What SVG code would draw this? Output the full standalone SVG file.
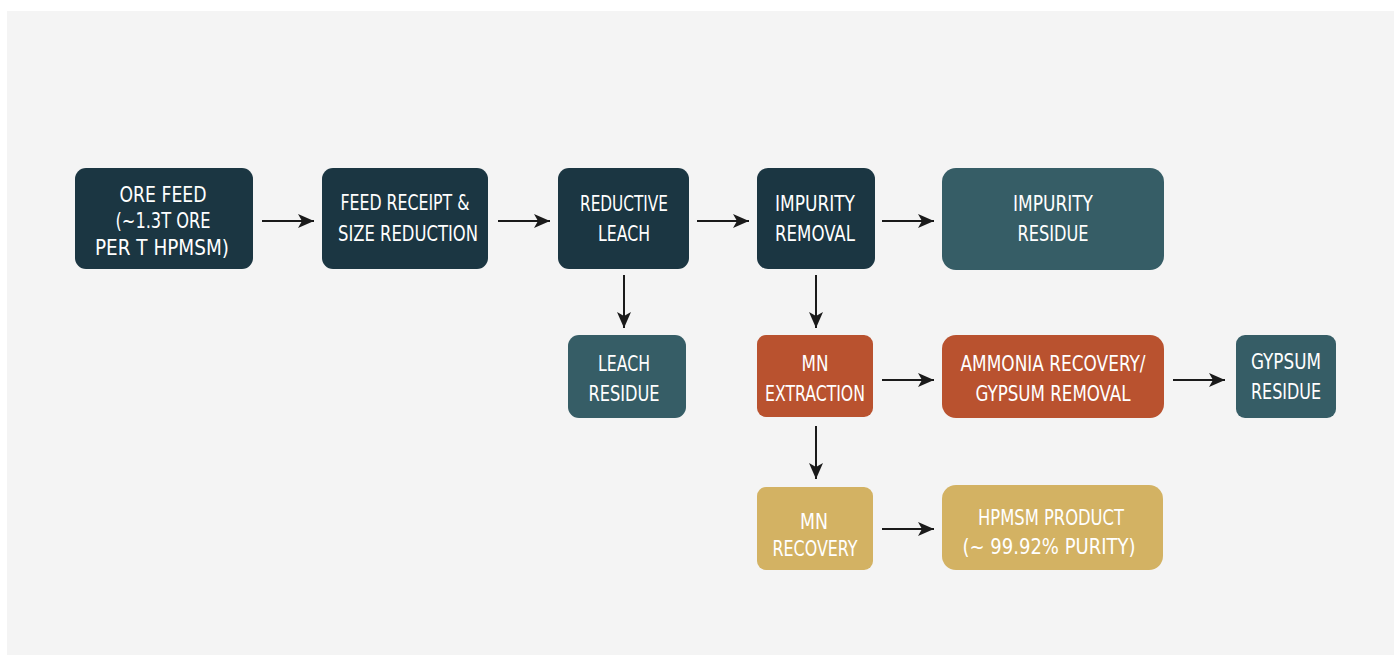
<svg xmlns="http://www.w3.org/2000/svg" width="1394" height="655" viewBox="0 0 1394 655">
<style>
.bg{fill:#f4f4f4}
.dark{fill:#1b3642}
.teal{fill:#365d66}
.orange{fill:#b9522f}
.gold{fill:#d3b263}
.t{font-family:"DejaVu Sans","Liberation Sans",sans-serif;font-stretch:condensed;font-size:22px;fill:#ffffff;text-anchor:middle}
.c{stroke:#1a1a1a;stroke-width:2;fill:none;marker-end:url(#ah)}
</style>
<defs>
<marker id="ah" markerUnits="userSpaceOnUse" markerWidth="18" markerHeight="16" refX="16" refY="7" orient="auto">
<path d="M0,0 L16,7 L0,14 L4,7 Z" fill="#1a1a1a"/>
</marker>
</defs>
<rect class="bg" x="7" y="11" width="1387" height="644"/>
<g id="connectors">
<line class="c" x1="262" y1="221" x2="314" y2="221"/>
<line class="c" x1="498" y1="221" x2="550" y2="221"/>
<line class="c" x1="697" y1="221" x2="749" y2="221"/>
<line class="c" x1="882" y1="221" x2="934" y2="221"/>
<line class="c" x1="624" y1="275" x2="624" y2="328"/>
<line class="c" x1="816" y1="275" x2="816" y2="328"/>
<line class="c" x1="882" y1="380" x2="934" y2="380"/>
<line class="c" x1="1173" y1="380" x2="1225" y2="380"/>
<line class="c" x1="816" y1="426" x2="816" y2="479"/>
<line class="c" x1="882" y1="529" x2="934" y2="529"/>
</g>
<g id="ore-feed">
<rect class="dark" x="75" y="168" width="178" height="101" rx="11"/>
<text class="t" x="163" y="202" textLength="87" lengthAdjust="spacingAndGlyphs">ORE FEED</text>
<text class="t" x="163" y="228" textLength="95" lengthAdjust="spacingAndGlyphs">(~1.3T ORE</text>
<text class="t" x="162" y="255" textLength="134" lengthAdjust="spacingAndGlyphs">PER T HPMSM)</text>
</g>
<g id="feed-receipt">
<rect class="dark" x="322" y="168" width="166" height="101" rx="11"/>
<text class="t" x="405" y="210" textLength="129" lengthAdjust="spacingAndGlyphs">FEED RECEIPT &amp;</text>
<text class="t" x="408" y="241" textLength="140" lengthAdjust="spacingAndGlyphs">SIZE  REDUCTION</text>
</g>
<g id="reductive-leach">
<rect class="dark" x="558" y="168" width="131" height="101" rx="11"/>
<text class="t" x="624" y="211" textLength="88" lengthAdjust="spacingAndGlyphs">REDUCTIVE</text>
<text class="t" x="624" y="241" textLength="52" lengthAdjust="spacingAndGlyphs">LEACH</text>
</g>
<g id="impurity-removal">
<rect class="dark" x="757" y="168" width="118" height="101" rx="11"/>
<text class="t" x="815" y="211" textLength="80" lengthAdjust="spacingAndGlyphs">IMPURITY</text>
<text class="t" x="815" y="241" textLength="80" lengthAdjust="spacingAndGlyphs">REMOVAL</text>
</g>
<g id="impurity-residue">
<rect class="teal" x="942" y="168" width="222" height="102" rx="14"/>
<text class="t" x="1053" y="211" textLength="80" lengthAdjust="spacingAndGlyphs">IMPURITY</text>
<text class="t" x="1053" y="241" textLength="71" lengthAdjust="spacingAndGlyphs">RESIDUE</text>
</g>
<g id="leach-residue">
<rect class="teal" x="568" y="335" width="118" height="83" rx="11"/>
<text class="t" x="624" y="371" textLength="52" lengthAdjust="spacingAndGlyphs">LEACH</text>
<text class="t" x="624" y="401" textLength="71" lengthAdjust="spacingAndGlyphs">RESIDUE</text>
</g>
<g id="mn-extraction">
<rect class="orange" x="757" y="335" width="116" height="82" rx="9"/>
<text class="t" x="815" y="371" textLength="27" lengthAdjust="spacingAndGlyphs">MN</text>
<text class="t" x="815" y="401" textLength="100" lengthAdjust="spacingAndGlyphs">EXTRACTION</text>
</g>
<g id="ammonia-recovery">
<rect class="orange" x="942" y="335" width="222" height="83" rx="14"/>
<text class="t" x="1053" y="371" textLength="185" lengthAdjust="spacingAndGlyphs">AMMONIA RECOVERY/</text>
<text class="t" x="1053" y="401" textLength="155" lengthAdjust="spacingAndGlyphs">GYPSUM REMOVAL</text>
</g>
<g id="gypsum-residue">
<rect class="teal" x="1236" y="335" width="100" height="83" rx="9"/>
<text class="t" x="1286" y="369" textLength="70" lengthAdjust="spacingAndGlyphs">GYPSUM</text>
<text class="t" x="1286" y="399" textLength="70" lengthAdjust="spacingAndGlyphs">RESIDUE</text>
</g>
<g id="mn-recovery">
<rect class="gold" x="757" y="487" width="116" height="83" rx="9"/>
<text class="t" x="814" y="529" textLength="28" lengthAdjust="spacingAndGlyphs">MN</text>
<text class="t" x="815" y="556" textLength="85" lengthAdjust="spacingAndGlyphs">RECOVERY</text>
</g>
<g id="hpmsm-product">
<rect class="gold" x="942" y="485" width="221" height="85" rx="14"/>
<text class="t" x="1051" y="525" textLength="146" lengthAdjust="spacingAndGlyphs">HPMSM PRODUCT</text>
<text class="t" x="1049" y="554" textLength="173" lengthAdjust="spacingAndGlyphs">(~ 99.92% PURITY)</text>
</g>
</svg>
